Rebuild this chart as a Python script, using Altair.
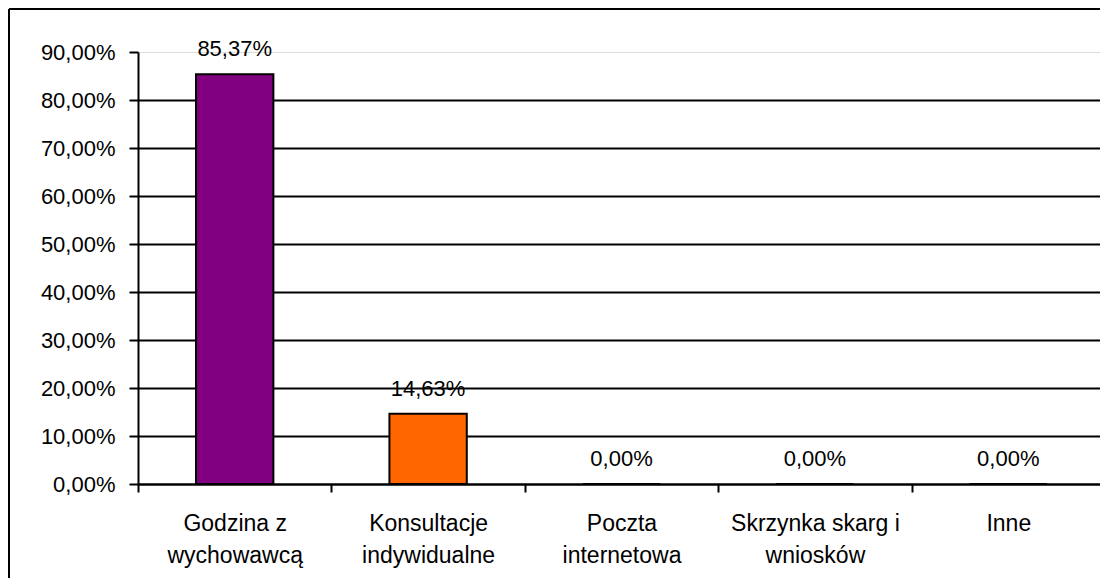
import json
import altair as alt
import pandas as pd

categories = ["Godzina z wychowawcą", "Konsultacje indywidualne", "Poczta internetowa",
              "Skrzynka skarg i wniosków", "Inne"]
label_lines = [["Godzina z", "wychowawcą"], ["Konsultacje", "indywidualne"],
               ["Poczta", "internetowa"], ["Skrzynka skarg i", "wniosków"], ["Inne"]]
values = [0.8537, 0.1463, 0.0, 0.0, 0.0]
colors = ["#800080", "#FF6600", "#800080", "#800080", "#800080"]
y_ticks = [0.0, 0.1, 0.2, 0.3, 0.4, 0.5, 0.6, 0.7, 0.8, 0.9]

W_FULL = 967   # full plot width as in the (cropped) reference
W_VIEW = 962   # visible width that fits the window
H = 432
PAD_L, PAD_T, PAD_B = 130, 44, 94
FONT = "Liberation Sans"
FS = 22
FS_X = 23

df = pd.DataFrame({"cat": categories, "val": values, "col": colors})

label_map = json.dumps(dict(zip(categories, label_lines)), ensure_ascii=False)

x_scale = alt.Scale(paddingInner=0, paddingOuter=0, range=[0, W_FULL])

x_enc = alt.X(
    "cat:N", sort=categories, scale=x_scale,
    axis=alt.Axis(
        title=None, labelAngle=0, labelBaseline="top", labelLineHeight=32,
        labelFont=FONT, labelFontSize=FS_X, labelColor="black", labelPadding=20,
        labelLimit=0, labelExpr=f"{label_map}[datum.label]",
        domainColor="black", domainWidth=2, tickColor="black", tickWidth=2,
        tickSize=8, tickBand="extent", grid=False,
    ),
)
y_enc = alt.Y(
    "val:Q",
    scale=alt.Scale(domain=[0, 0.9], nice=False),
    axis=alt.Axis(
        title=None, values=y_ticks, labelFont=FONT, labelFontSize=FS,
        labelColor="black", labelPadding=14,
        labelExpr="replace(format(datum.value, '.2%'), '.', ',')",
        domainColor="black", domainWidth=2, tickColor="black", tickWidth=2,
        tickSize=9, grid=True, gridColor="black", gridWidth=2,
        gridOpacity={"condition": {"test": "datum.value >= 0.895", "value": 0}, "value": 1},
    ),
)

base = alt.Chart(df)

bars = base.mark_bar(stroke="black", strokeWidth=2, width=alt.RelativeBandSize(0.4)).encode(
    x=x_enc, y=y_enc,
    color=alt.Color("col:N", scale=None),
)

labels = base.transform_calculate(
    lab="replace(format(datum.val, '.2%'), '.', ',')"
).mark_text(font=FONT, fontSize=FS, color="black", baseline="alphabetic", dy=-18).encode(
    x=alt.X("cat:N", sort=categories, scale=x_scale),
    y=alt.Y("val:Q"),
    text="lab:N",
)

frame_df = pd.DataFrame({"k": [0]})
top_border = alt.Chart(frame_df).mark_rule(color="black", strokeWidth=2).encode(
    x=alt.value(-PAD_L + 1), x2=alt.value(W_FULL), y=alt.value(-PAD_T + 1)
)
left_border = alt.Chart(frame_df).mark_rule(color="black", strokeWidth=2).encode(
    x=alt.value(-PAD_L + 1), y=alt.value(-PAD_T + 1), y2=alt.value(H + PAD_B)
)

chart = alt.layer(bars, labels, top_border, left_border).properties(
    width=W_VIEW, height=H,
    padding={"left": PAD_L, "top": PAD_T, "right": 0, "bottom": PAD_B},
    autosize=alt.AutoSizeParams(type="none"),
).configure_view(stroke=None).configure(background="white")

chart.save("out.html", embed_options={"renderer": "svg", "actions": False})
